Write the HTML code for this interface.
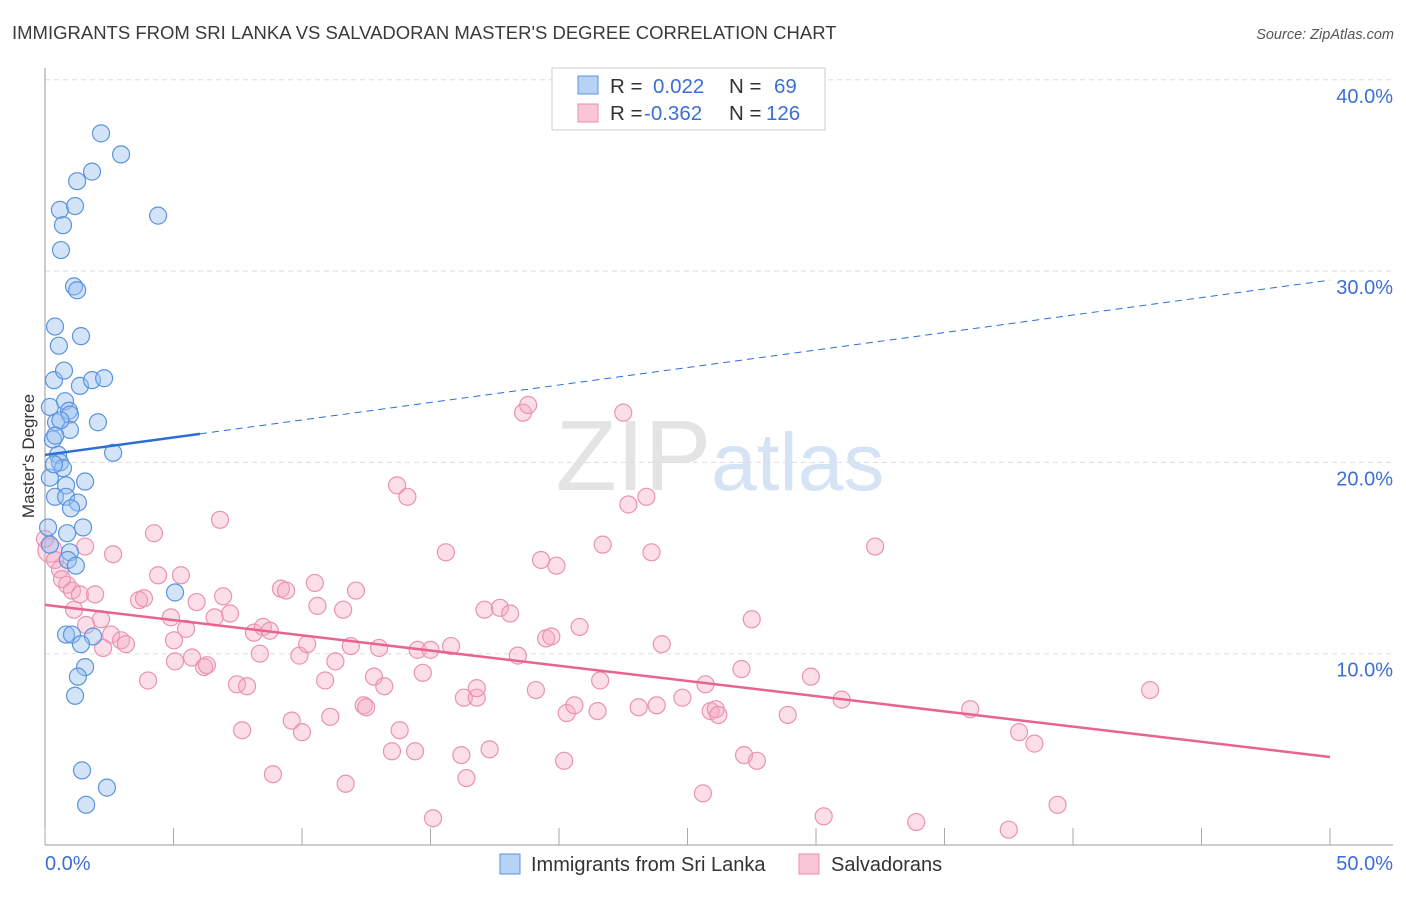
<!DOCTYPE html>
<html><head><meta charset="utf-8"><style>
body{margin:0;background:#fff;font-family:"Liberation Sans",sans-serif;}
svg text{font-family:"Liberation Sans",sans-serif;}
</style></head><body>
<svg id="chart" width="1406" height="892" xmlns="http://www.w3.org/2000/svg">
<text x="12" y="39" font-size="18.5" fill="#3a3a3a">IMMIGRANTS FROM SRI LANKA VS SALVADORAN MASTER'S DEGREE CORRELATION CHART</text>
<text x="1394" y="39" font-size="14.5" fill="#555" text-anchor="end" font-style="italic">Source: ZipAtlas.com</text>
<text x="720" y="490" font-size="100" text-anchor="middle" fill="#e4e4e4" font-family="Liberation Serif,serif">ZIP<tspan fill="#d5e3f5" font-family="Liberation Sans,sans-serif" font-size="82">atlas</tspan></text>
<g id="grid"></g><g id="axes"></g><g id="pts"></g><g id="trends"></g>
<text transform="translate(34,456) rotate(-90)" font-size="17" fill="#333" text-anchor="middle">Master's Degree</text>
<g>
<rect x="552" y="68" width="273" height="62" fill="#fff" stroke="#ccc"/>
<rect x="578" y="76" width="20" height="18" fill="#b7d2f5" stroke="#5a93df"/>
<rect x="578" y="104" width="20" height="18" fill="#f8c6d6" stroke="#e990ad"/>
<text x="610" y="93" font-size="20.5" fill="#333">R = <tspan fill="#3b6fd6" x="653">0.022</tspan><tspan x="729">N = </tspan><tspan fill="#3b6fd6" x="774">69</tspan></text>
<text x="610" y="120" font-size="20.5" fill="#333">R = <tspan fill="#3b6fd6" x="644">-0.362</tspan><tspan x="729">N = </tspan><tspan fill="#3b6fd6" x="766">126</tspan></text>
</g>
<g>
<rect x="500" y="854" width="20" height="20" fill="#b7d2f5" stroke="#5a93df"/>
<text x="531" y="871" font-size="20" fill="#333">Immigrants from Sri Lanka</text>
<rect x="799" y="854" width="20" height="20" fill="#f8c6d6" stroke="#e990ad"/>
<text x="831" y="871" font-size="20" fill="#333">Salvadorans</text>
</g>
</svg>
<script>
const blueX=[2.18,2.96,1.83,1.25,0.58,1.17,0.70,4.40,0.62,1.13,1.25,0.39,1.40,0.54,0.35,0.74,1.36,1.83,2.30,0.19,0.78,0.93,0.43,0.97,2.06,0.97,0.31,2.65,0.51,0.58,0.70,0.19,1.56,0.82,0.39,0.82,1.28,1.01,1.48,0.12,0.86,0.19,0.97,0.89,1.20,5.06,0.82,1.05,1.87,1.40,1.56,1.28,1.17,1.44,2.41,1.60,0.35,0.6,0.4];
const blueY=[37.2,36.1,35.2,34.7,33.2,33.4,32.4,32.9,31.1,29.2,29.0,27.1,26.6,26.1,24.3,24.8,24.0,24.3,24.4,22.9,23.2,22.7,22.1,22.5,22.1,21.7,21.2,20.5,20.4,20.0,19.7,19.2,19.0,18.8,18.2,18.2,17.9,17.6,16.6,16.6,16.3,15.7,15.3,14.9,14.6,13.2,11.0,11.0,10.9,10.5,9.3,8.8,7.8,3.9,3.0,2.1,19.9,22.2,21.4];
const pinkX=[0.19,0.39,0.58,0.86,1.05,1.36,0.66,1.56,2.65,1.95,1.13,1.60,2.18,2.57,2.96,3.15,2.26,3.66,3.85,4.24,4.40,5.29,4.90,5.49,5.02,4.01,5.06,5.72,6.19,6.3,5.9,6.81,6.93,7.2,6.6,7.47,7.86,7.67,8.13,8.48,8.75,8.36,9.18,9.38,10.5,10.6,9.9,10.2,9.6,10.0,8.87,10.9,11.3,11.6,12.1,11.9,11.1,12.4,12.5,12.8,13.2,13.0,11.7,13.5,13.8,13.7,14.1,14.4,14.5,15.0,14.7,15.1,15.6,15.8,16.3,16.8,16.8,16.2,16.4,17.3,17.1,17.7,18.1,18.4,18.6,18.8,19.1,19.3,19.9,19.5,19.7,20.2,20.3,20.6,20.8,21.5,21.6,21.7,22.5,22.7,23.4,23.6,23.1,23.8,24.0,24.8,25.6,25.7,25.9,26.1,26.2,27.1,27.2,27.7,27.5,28.9,29.8,30.3,31.0,32.3,33.9,36.0,37.5,37.9,38.5,39.4,43.0,0.0];
const pinkY=[15.4,14.9,14.4,13.6,13.3,13.1,13.9,15.6,15.2,13.1,12.3,11.5,11.8,11.0,10.7,10.5,10.3,12.8,12.9,16.3,14.1,14.1,11.9,11.3,10.7,8.6,9.6,9.8,9.3,9.4,12.7,17.0,13.0,12.1,11.9,8.4,8.3,6.0,11.1,11.4,11.2,10.0,13.4,13.3,13.7,12.5,9.9,10.5,6.5,5.9,3.7,8.6,9.6,12.3,13.3,10.4,6.7,7.3,7.2,8.8,8.3,10.3,3.2,4.9,6.0,18.8,18.2,4.9,10.2,10.2,9.0,1.4,15.3,10.4,7.7,7.7,8.2,4.7,3.5,5.0,12.3,12.4,12.1,9.9,22.6,23.0,8.1,14.9,14.6,10.8,10.9,4.4,6.9,7.3,11.4,7.0,8.6,15.7,22.6,17.8,18.2,15.3,7.2,7.3,10.5,7.7,2.7,8.4,7.0,7.1,6.8,9.2,4.7,4.4,11.8,6.8,8.8,1.5,7.6,15.6,1.2,7.1,0.8,5.9,5.3,2.1,8.1,16.0];
const yTicks=[10,20,30,40];
const yTickLabels=["10.0%","20.0%","30.0%","40.0%"];
const xTicks=[0,5,10,15,20,25,30,35,40,45,50];
const blueTrend=[20.39,29.53], blueSolidEnd=6.03;
const pinkTrend=[12.55,4.6];

const NS="http://www.w3.org/2000/svg";
const sx=v=>45+v*25.7, sy=v=>845-v*19.13;
function mk(parent,tag,attrs){const e=document.createElementNS(NS,tag);for(const k in attrs)e.setAttribute(k,attrs[k]);document.getElementById(parent).appendChild(e);return e;}
yTicks.forEach((t,i)=>{
  const l=mk('grid','line',{x1:45,x2:1393,y1:sy(t),y2:sy(t),stroke:'#ddd','stroke-dasharray':'5,4'});
  
  
  const tx=mk('grid','text',{x:1393,y:sy(t)+23,'font-size':20,fill:'#3b6fd6','text-anchor':'end'});
  tx.textContent=yTickLabels[i];
  
  
});
const ax=mk('axes','line',{x1:45,x2:45,y1:68,y2:845,stroke:'#999'});


const bx=mk('axes','line',{x1:45,x2:1393,y1:845,y2:845,stroke:'#999'});


xTicks.forEach(t=>{const l=mk('axes','line',{x1:sx(t),x2:sx(t),y1:828,y2:845,stroke:'#aaa'});
  
  });
const xl0=mk('axes','text',{x:45,y:870,'font-size':20,fill:'#3b6fd6'});xl0.textContent=xTicks[0].toFixed(1)+'%';


const xl1=mk('axes','text',{x:1393,y:870,'font-size':20,fill:'#3b6fd6','text-anchor':'end'});xl1.textContent=xTicks[xTicks.length-1].toFixed(1)+'%';


pinkX.forEach((x,i)=>{const c=mk('pts','circle',{cx:sx(x),cy:sy(pinkY[i]),r:i===0?12:8.5,fill:'rgba(244,168,194,0.38)',stroke:'#ea93b0','stroke-width':1.2});
  
  });
blueX.forEach((x,i)=>{const c=mk('pts','circle',{cx:sx(x),cy:sy(blueY[i]),r:8.5,fill:'rgba(150,190,240,0.42)',stroke:'#5a93df','stroke-width':1.2});
  
  });
const bY=x=>blueTrend[0]+(blueTrend[1]-blueTrend[0])*x/50;
const t1=mk('trends','line',{x1:sx(0),y1:sy(bY(0)),x2:sx(blueSolidEnd),y2:sy(bY(blueSolidEnd)),stroke:'#2a6fd6','stroke-width':2.5});


const t2=mk('trends','line',{x1:sx(blueSolidEnd),y1:sy(bY(blueSolidEnd)),x2:sx(50),y2:sy(bY(50)),stroke:'#2a6fd6','stroke-width':1,'stroke-dasharray':'7,5'});


const t3=mk('trends','line',{x1:sx(0),y1:sy(pinkTrend[0]),x2:sx(50),y2:sy(pinkTrend[1]),stroke:'#e8648f','stroke-width':2.5});


</script>
</body></html>
